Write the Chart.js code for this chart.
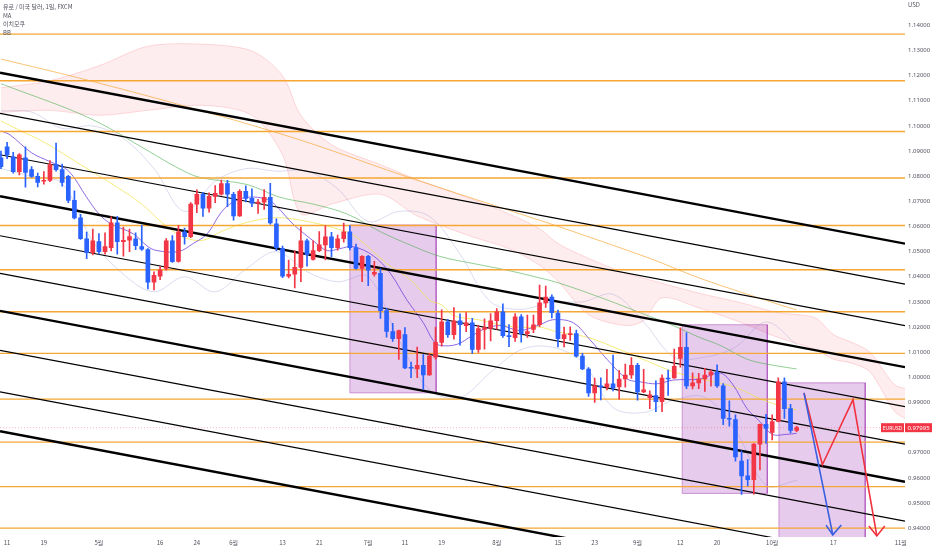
<!DOCTYPE html>
<html>
<head>
<meta charset="utf-8">
<script src="https://cdn.jsdelivr.net/npm/chart.js@4.4.1/dist/chart.umd.min.js"></script>
<style>
  html, body { margin: 0; padding: 0; background: #fff; }
  #wrap { width: 932px; height: 550px; }
</style>
</head>
<body>
<div id="wrap"><canvas id="chart"></canvas></div>
<script>
// EUR/USD daily, 2022-04-08 .. 2022-10-07 (bar index 0..130), future bars up to 2022-11-01
const opens = [1.0873,1.0917,1.0877,1.0818,1.0873,1.0826,1.0799,1.0780,1.0783,1.0846,1.0826,1.0799,1.0704,1.0634,1.0551,1.0496,1.0540,1.0500,1.0516,1.0614,
  1.0540,1.0545,1.0551,1.0520,1.0508,1.0378,1.0402,1.0433,1.0543,1.0461,1.0579,1.0559,1.0689,1.0728,1.0673,1.0720,1.0728,1.0771,1.0728,1.0642,
  1.0740,1.0712,1.0693,1.0697,1.0716,1.0610,1.0512,1.0402,1.0410,1.0437,1.0543,1.0469,1.0504,1.0527,1.0559,1.0516,1.0551,1.0579,1.0516,1.0433,
  1.0481,1.0410,1.0414,1.0265,1.0182,1.0154,1.0170,1.0040,1.0033,1.0048,1.0009,1.0080,1.0139,1.0221,1.0170,1.0225,1.0205,1.0217,1.0111,1.0190,
  1.0194,1.0225,1.0260,1.0166,1.0158,1.0241,1.0174,1.0190,1.0209,1.0296,1.0319,1.0255,1.0154,1.0170,1.0174,1.0084,1.0033,0.9938,0.9966,0.9962,
  0.9974,0.9962,0.9993,1.0009,1.0048,0.9942,0.9919,0.9927,0.9903,0.9997,0.9997,1.0075,1.0119,0.9966,0.9978,0.9993,1.0009,1.0021,0.9966,0.9836,
  0.9832,0.9667,0.9608,0.9593,0.9734,0.9813,0.9781,0.9824,0.9982,0.9875,0.9789];
const highs = [1.0900,1.0935,1.0895,1.0890,1.0917,1.0838,1.0812,1.0818,1.0862,1.0932,1.0848,1.0803,1.0742,1.0648,1.0578,1.0590,1.0572,1.0575,1.0638,1.0640,
  1.0598,1.0590,1.0575,1.0605,1.0512,1.0420,1.0440,1.0552,1.0564,1.0605,1.0594,1.0695,1.0746,1.0736,1.0734,1.0763,1.0785,1.0784,1.0736,1.0747,
  1.0762,1.0750,1.0708,1.0747,1.0772,1.0630,1.0522,1.0466,1.0503,1.0598,1.0550,1.0543,1.0580,1.0604,1.0577,1.0566,1.0613,1.0604,1.0530,1.0484,
  1.0485,1.0461,1.0432,1.0275,1.0215,1.0188,1.0198,1.0060,1.0120,1.0090,1.0095,1.0199,1.0268,1.0231,1.0277,1.0252,1.0257,1.0235,1.0207,1.0233,
  1.0253,1.0273,1.0292,1.0210,1.0253,1.0249,1.0247,1.0247,1.0367,1.0363,1.0328,1.0267,1.0200,1.0201,1.0188,1.0095,1.0039,0.9997,0.9998,1.0032,
  1.0088,1.0027,1.0053,1.0078,1.0056,1.0032,0.9946,0.9986,1.0010,1.0029,1.0112,1.0197,1.0178,1.0018,1.0016,1.0036,1.0029,1.0050,0.9975,0.9906,
  0.9851,0.9707,0.9673,0.9736,0.9814,0.9853,0.9851,0.9998,0.9998,0.9892,0.9805];
const lows = [1.0830,1.0870,1.0812,1.0805,1.0756,1.0795,1.0757,1.0768,1.0778,1.0820,1.0760,1.0695,1.0630,1.0548,1.0472,1.0487,1.0490,1.0490,1.0503,1.0490,
  1.0482,1.0500,1.0508,1.0505,1.0352,1.0348,1.0388,1.0426,1.0457,1.0458,1.0530,1.0555,1.0655,1.0640,1.0657,1.0695,1.0725,1.0679,1.0625,1.0640,
  1.0698,1.0679,1.0652,1.0668,1.0609,1.0504,1.0396,1.0395,1.0356,1.0380,1.0442,1.0466,1.0500,1.0467,1.0480,1.0506,1.0538,1.0507,1.0430,1.0380,
  1.0364,1.0402,1.0234,1.0160,1.0143,1.0071,1.0034,0.9998,0.9998,0.9952,1.0007,1.0072,1.0124,1.0159,1.0152,1.0128,1.0181,1.0095,1.0099,1.0112,
  1.0145,1.0191,1.0159,1.0122,1.0143,1.0140,1.0159,1.0177,1.0201,1.0278,1.0236,1.0121,1.0121,1.0147,1.0080,1.0030,0.9924,0.9900,0.9910,0.9950,
  0.9946,0.9913,0.9961,0.9995,0.9909,0.9939,0.9875,0.9863,0.9863,0.9928,0.9995,1.0040,0.9955,0.9954,0.9955,0.9944,0.9965,0.9960,0.9811,0.9806,
  0.9666,0.9534,0.9568,0.9535,0.9631,0.9737,0.9751,0.9822,0.9836,0.9779,0.9784];
const closes = [1.0838,1.0885,1.0818,1.0885,1.0815,1.0799,1.0775,1.0784,1.0846,1.0826,1.0775,1.0704,1.0634,1.0551,1.0496,1.0543,1.0500,1.0520,1.0614,1.0540,
  1.0545,1.0560,1.0524,1.0510,1.0378,1.0406,1.0426,1.0543,1.0460,1.0579,1.0559,1.0689,1.0728,1.0673,1.0720,1.0732,1.0771,1.0728,1.0642,1.0740,
  1.0712,1.0693,1.0697,1.0716,1.0614,1.0516,1.0402,1.0410,1.0437,1.0543,1.0488,1.0504,1.0527,1.0559,1.0516,1.0551,1.0579,1.0516,1.0433,1.0481,
  1.0426,1.0418,1.0265,1.0182,1.0154,1.0186,1.0037,1.0036,1.0048,1.0009,1.0084,1.0139,1.0221,1.0170,1.0225,1.0209,1.0217,1.0111,1.0194,1.0198,
  1.0225,1.0260,1.0166,1.0162,1.0241,1.0174,1.0182,1.0209,1.0296,1.0319,1.0257,1.0154,1.0170,1.0174,1.0084,1.0033,0.9938,0.9966,0.9962,0.9974,
  0.9958,0.9993,1.0009,1.0048,0.9942,0.9950,0.9930,0.9903,0.9997,0.9993,1.0044,1.0119,0.9966,0.9978,0.9993,1.0009,1.0021,0.9966,0.9836,0.9833,
  0.9683,0.9608,0.9593,0.9734,0.9813,0.9797,0.9824,0.9982,0.9875,0.9789,0.97995];

// x axis labels (bar index -> text)
const tickIdx = [1, 7, 16, 26, 32, 38, 46, 52, 60, 66, 72, 81, 91, 97, 104, 111, 117, 126, 136, 147];
const tickText = ['11', '19', '5월', '16', '24', '6월', '13', '21', '7월', '11', '19', '8월', '15', '23', '9월', '12', '20', '10월', '17', '11월'];
const priceTicks = [0.94, 0.95, 0.96, 0.97, 0.98, 0.99, 1.00, 1.01, 1.02, 1.03, 1.04, 1.05, 1.06, 1.07, 1.08, 1.09, 1.10, 1.11, 1.12, 1.13, 1.14];

// moving averages (bar index, price)
const ma10Idx = [0,1.5,5,8,11,14,16,18,21.6,24,25.5,29,31.4,33.7,35.8,37.4,40.2,43.5,45,47.7,51,53.3,55.4,57.5,60.8,63.6,66.3,69,70.6,71.7,74.5,77,78.8,81.5,84.8,88,90.2,93.5,96.2,99,102.3,104.4,107.2,109.8,114.2,117.5,119.6,121.9,124,126,128.4,130];
const ma10Val = [1.0980,1.0964,1.0893,1.0858,1.0822,1.0716,1.0650,1.0610,1.0571,1.0520,1.0504,1.0500,1.0532,1.0571,1.0650,1.0689,1.0716,1.0708,1.0681,1.0610,1.0543,1.0504,1.0512,1.0520,1.0484,1.0414,1.0308,1.0217,1.0147,1.0127,1.0131,1.0166,1.0190,1.0206,1.0186,1.0209,1.0229,1.0217,1.0150,1.0072,0.9993,0.9982,0.9974,0.9989,0.9993,1.0017,0.9970,0.9875,0.9824,0.9773,0.9773,0.9777];
const ma20Idx = [0,3,7,13,19,23,26,28,30,33,36,40,45,50,55,58,63,67,70,72,74,78,82,86,88,91,96,101,106,110,115,120,125,130];
const ma20Val = [1.1020,1.0983,1.0936,1.0846,1.0756,1.0689,1.0622,1.0583,1.0555,1.0545,1.0580,1.0615,1.0635,1.0620,1.0590,1.0559,1.0453,1.0386,1.0307,1.0288,1.0245,1.0229,1.0206,1.0198,1.0200,1.0180,1.0158,1.0111,1.0060,1.0021,0.9990,0.9960,0.9905,0.9870];
const ma60Idx = [0,14.5,24.3,28.8,32.5,40.2,45.6,51,56.5,62,66.3,71.7,77.1,82.7,86.9,91.3,99,104.4,109.8,114.2,117.5,121.9,125.2,130];
const ma60Val = [1.1168,1.1031,1.0897,1.0834,1.0795,1.0767,1.0716,1.0689,1.0650,1.0579,1.0532,1.0481,1.0453,1.0426,1.0402,1.0374,1.0308,1.0257,1.0206,1.0158,1.0127,1.0072,1.0052,1.0033];
const ma120Idx = [0,14.5,32.5,48.9,65.2,75,84.8,91.3,106,114.2,127.3,130];
const ma120Val = [1.1266,1.1180,1.1062,1.0944,1.0807,1.0728,1.0650,1.0598,1.0473,1.0394,1.0288,1.0268];

// Bollinger bands
const bbIdx = [0,5,10,15,20,25,30,35,40,45,50,55,60,65,70,75,80,85,90,95,100,105,110,115,120,125,130];
const bbUpper = [1.1060,1.1055,1.0990,1.1000,1.0950,1.0830,1.0660,1.0780,1.0830,1.0820,1.0820,1.0750,1.0620,1.0660,1.0640,1.0490,1.0300,1.0270,1.0300,1.0300,1.0330,1.0220,1.0080,1.0080,1.0120,1.0220,1.0130];
const bbLower = [1.0830,1.0800,1.0770,1.0540,1.0410,1.0340,1.0400,1.0340,1.0430,1.0500,1.0420,1.0380,1.0400,1.0150,0.9950,0.9920,1.0020,1.0110,1.0120,1.0060,0.9880,0.9860,0.9910,0.9920,0.9790,0.9570,0.9590];

// Ichimoku cloud edges
const cloudIdx = [0,8,16,24,33,41,46,49,54,62,68,77,83,88,91,96,102,105,108,114,121,127,133,136,139,142,146,148];
const cloudTop = [1.1152,1.1180,1.1239,1.1317,1.1325,1.1298,1.1200,1.1042,1.0925,1.0846,1.0787,1.0708,1.0650,1.0591,1.0532,1.0473,1.0414,1.0394,1.0374,1.0335,1.0296,1.0257,1.0237,1.0170,1.0139,1.0099,0.9970,0.9954];
const cloudBot = [1.1054,1.1062,1.1042,1.1062,1.1082,1.1042,1.0885,1.0650,1.0689,1.0728,1.0642,1.0559,1.0512,1.0445,1.0382,1.0249,1.0206,1.0225,1.0316,1.0276,1.0217,1.0158,1.0111,1.0072,1.0056,1.0021,0.9864,0.9832];

// drawings
const levels = [1.1365, 1.1180, 1.0978, 1.0793, 1.0604, 1.0428, 1.0261, 1.0095, 0.9913, 0.9742, 0.9565, 0.9400];
const chLeft = [1.12114, 1.10503, 1.08853, 1.07202, 1.05631, 1.04137, 1.02644, 1.01073, 0.99422, 0.97851];
const chRight = [1.05316, 1.03705, 1.02055, 1.00404, 0.98833, 0.97339, 0.95846, 0.94275, 0.92624, 0.91053];
const rectL = [57.0, 111.3, 127.1];
const rectR = [71.1, 125.2, 141.2];
const rectTop = [1.0606, 1.0209, 0.9978];
const rectBot = [0.9938, 0.9538, 0.9300];
const blueArrowX = [131.2, 135.9];
const blueArrowY = [0.9938, 0.9373];
const blueHeadX = [134.8, 135.9, 137.3];
const blueHeadY = [0.9412, 0.9373, 0.9412];
const redArrowX = [131.2, 134.2, 139.2, 143.1];
const redArrowY = [0.9938, 0.9652, 0.9911, 0.9369];
const redHeadX = [141.8, 143.1, 144.4];
const redHeadY = [0.9408, 0.9369, 0.9408];
const lastPrice = 0.97995;

const X_MIN = -0.16, X_MAX = 147.7;
const UP = '#f23645', DOWN = '#2962ff';

const pts = (xs, ys) => xs.map((x, i) => ({ x: x, y: ys[i] }));
const candleColor = ctx => closes[ctx.dataIndex] >= opens[ctx.dataIndex] ? UP : DOWN;

function line(data, color, width, order, extra) {
    return Object.assign({
        type: 'line', data: data, borderColor: color, borderWidth: width,
        pointRadius: 0, fill: false, tension: 0, order: order
    }, extra || {});
}

const datasets = [];

// cloud
datasets.push(line(pts(cloudIdx, cloudTop), 'rgba(242,54,69,0.22)', 0.8, 20,
    { fill: '+1', backgroundColor: 'rgba(242,54,69,0.09)', tension: 0.3 }));
datasets.push(line(pts(cloudIdx, cloudBot), 'rgba(242,54,69,0.22)', 0.8, 20, { tension: 0.3 }));

// rectangles
rectL.forEach((l, i) => {
    datasets.push(line(pts([l, rectR[i]], [rectTop[i], rectTop[i]]), 'rgba(0,0,0,0)', 0, 18,
        { fill: { value: rectBot[i] }, backgroundColor: 'rgba(156,39,176,0.24)' }));
    datasets.push(line(pts([l, rectR[i], rectR[i], l, l], [rectTop[i], rectTop[i], rectBot[i], rectBot[i], rectTop[i]]),
        'rgba(156,39,176,0.45)', 1, 18));
});

// bollinger bands
datasets.push(line(pts(bbIdx, bbUpper), 'rgba(120,130,200,0.35)', 0.8, 16, { tension: 0.35 }));
datasets.push(line(pts(bbIdx, bbLower), 'rgba(120,130,200,0.35)', 0.8, 16, { tension: 0.35 }));

// moving averages
datasets.push(line(pts(ma120Idx, ma120Val), 'rgba(245,160,40,0.8)', 0.8, 15, { tension: 0.35 }));
datasets.push(line(pts(ma60Idx, ma60Val), 'rgba(76,175,80,0.75)', 0.8, 15, { tension: 0.35 }));
datasets.push(line(pts(ma20Idx, ma20Val), 'rgba(240,225,60,0.85)', 0.8, 15, { tension: 0.35 }));
datasets.push(line(pts(ma10Idx, ma10Val), 'rgba(110,60,220,0.85)', 0.9, 14, { tension: 0.35 }));

// horizontal levels
levels.forEach(v => datasets.push(line(pts([X_MIN, X_MAX], [v, v]), '#f5a633', 1.4, 12)));

// price line
datasets.push(line(pts([X_MIN, X_MAX], [lastPrice, lastPrice]), 'rgba(242,54,69,0.45)', 0.8, 11, { borderDash: [1, 2] }));

// channel lines
chLeft.forEach((v, k) => datasets.push(line(pts([X_MIN, X_MAX], [v, chRight[k]]), '#000', k % 3 === 0 ? 2.4 : 1.2, 10)));

// candles
datasets.push({
    type: 'bar', data: opens.map((o, i) => ({ x: i, y: [lows[i], highs[i]] })),
    backgroundColor: candleColor, barThickness: 1, grouped: false, order: 4
});
datasets.push({
    type: 'bar', data: opens.map((o, i) => ({ x: i, y: [o, closes[i]] })),
    backgroundColor: candleColor, barThickness: 4, minBarLength: 1, grouped: false, order: 3
});

// arrows
datasets.push(line(pts(blueArrowX, blueArrowY), '#3a5fe0', 1.6, 1));
datasets.push(line(pts(blueHeadX, blueHeadY), '#3a5fe0', 1.6, 1));
datasets.push(line(pts(redArrowX, redArrowY), '#f0323f', 1.6, 1));
datasets.push(line(pts(redHeadX, redHeadY), '#f0323f', 1.6, 1));

const overlay = {
    id: 'overlay',
    afterDraw(chart) {
        const c = chart.ctx;
        const y = chart.scales.y;
        c.save();
        c.font = '6px "Noto Sans CJK KR", "Noto Sans", sans-serif';
        c.fillStyle = '#50535e';
        c.textBaseline = 'middle';
        c.textAlign = 'left';
        c.fillText('유로 / 미국 달러, 1일, FXCM', 3, 7);
        c.fillText('MA', 3, 16);
        c.fillText('이치모쿠', 3, 24);
        c.fillText('BB', 3, 33);
        c.fillText('USD', 908, 5);

        const py = y.getPixelForValue(lastPrice);
        c.fillStyle = UP;
        c.fillRect(881, py - 4.5, 23, 9);
        c.fillRect(905, py - 4.5, 27, 9);
        c.fillStyle = '#fff';
        c.font = '5px "Noto Sans", sans-serif';
        c.textAlign = 'center';
        c.fillText('EURUSD', 892.5, py + 0.5);
        c.font = '6px "Noto Sans", sans-serif';
        c.fillText(lastPrice.toFixed(5), 918.5, py + 0.5);
        c.restore();
    }
};

new Chart(document.getElementById('chart'), {
    type: 'line',
    data: { datasets: datasets },
    options: {
        responsive: true,
        maintainAspectRatio: false,
        animation: false,
        events: [],
        layout: { padding: 0 },
        plugins: { legend: { display: false }, tooltip: { enabled: false } },
        scales: {
            x: {
                type: 'linear', min: X_MIN, max: X_MAX, offset: false,
                afterBuildTicks: s => { s.ticks = tickIdx.map(v => ({ value: v })); },
                afterFit: s => { s.height = 13; },
                ticks: {
                    autoSkip: false, maxRotation: 0, padding: 2, color: '#50535e',
                    font: { size: 6, family: '"Noto Sans CJK KR", "Noto Sans", sans-serif' },
                    callback: (v, i) => tickText[i]
                },
                grid: { display: false, drawTicks: false },
                border: { display: false }
            },
            y: {
                position: 'right', min: 0.93646, max: 1.14747,
                afterBuildTicks: s => { s.ticks = priceTicks.map(v => ({ value: v })); },
                afterFit: s => { s.width = 27; },
                ticks: {
                    padding: 3, color: '#50535e',
                    font: { size: 6, family: '"Noto Sans", sans-serif' },
                    callback: v => v.toFixed(5)
                },
                grid: { display: false, drawTicks: false },
                border: { display: false }
            }
        }
    },
    plugins: [overlay]
});
</script>
</body>
</html>
